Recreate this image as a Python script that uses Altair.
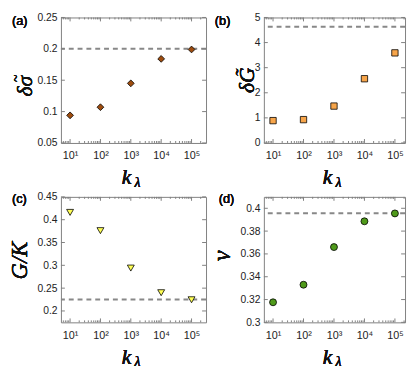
import altair as alt
import pandas as pd

k_vals = [10, 100, 1000, 10000, 100000]
a_vals = [0.094, 0.107, 0.145, 0.184, 0.199]
b_vals = [0.89, 0.93, 1.47, 2.56, 3.59]
c_vals = [0.416, 0.376, 0.294, 0.240, 0.2245]
d_vals = [0.3176, 0.333, 0.366, 0.3886, 0.3955]
dash_vals = [0.2, 4.63, 0.225, 0.3957]

a_ticks = [0.05, 0.1, 0.15, 0.2, 0.25]
b_ticks = [0, 1, 2, 3, 4, 5]
c_ticks = [0.2, 0.25, 0.3, 0.35, 0.4, 0.45]
d_ticks = [0.3, 0.32, 0.34, 0.36, 0.38, 0.4]

minor_all = [m * 10 ** e for e in range(0, 6) for m in range(2, 10)]

FRAME = "#7f7f7f"
LABEL_FONT = "Liberation Sans"
MATH_FONT = "Liberation Serif"


def panel(vals, dash, shape, color, size, ydom, yticks, xdom, W, H,
          label, label_x, label_y, ytitle, ty_x, ty_y, ty_size, tilde=None):
    xs = alt.Scale(type="log", domain=xdom, nice=False)
    ys = alt.Scale(domain=ydom, nice=False, zero=False)
    df = pd.DataFrame({"k": k_vals, "v": vals})
    xaxis = alt.Axis(values=k_vals, ticks=False, domain=False, grid=False, title=None,
                     labelExpr="'10' + ['⁰','¹','²','³','⁴','⁵'][round(log(datum.value)/LN10)]",
                     labelFont=LABEL_FONT, labelFontSize=11, labelColor="#222",
                     labelPadding=7, labelFlush=False)
    yaxis = alt.Axis(values=yticks, ticks=False, domain=False, grid=False, title=None,
                     format="~g", labelFont=LABEL_FONT, labelFontSize=10.5,
                     labelColor="#222", labelPadding=4, labelFlush=False)
    pts = alt.Chart(df).mark_point(shape=shape, filled=True, fill=color, stroke="black",
                                   strokeWidth=0.8, size=size, opacity=1).encode(
        x=alt.X("k:Q", scale=xs, axis=xaxis),
        y=alt.Y("v:Q", scale=ys, axis=yaxis))
    dline = alt.Chart(pd.DataFrame({"d": [dash]})).mark_rule(
        color="#888888", strokeWidth=2, strokeDash=[5, 4]).encode(
        y=alt.Y("d:Q", scale=ys, axis=yaxis))
    maj = pd.DataFrame({"t": k_vals})
    mnr = pd.DataFrame({"t": [m for m in minor_all if xdom[0] < m < xdom[1]]})
    yt = pd.DataFrame({"t": yticks})
    layers = [dline]
    for dd, ln in ((maj, 4), (mnr, 2)):
        for y0, y1 in ((H, H - ln), (0, ln)):
            layers.append(alt.Chart(dd).mark_rule(color=FRAME, strokeWidth=1).encode(
                x=alt.X("t:Q", scale=xs, axis=xaxis), y=alt.value(y0), y2=alt.value(y1)))
    for x0, x1 in ((0, 4), (W, W - 4)):
        layers.append(alt.Chart(yt).mark_rule(color=FRAME, strokeWidth=1).encode(
            y=alt.Y("t:Q", scale=ys, axis=yaxis), x=alt.value(x0), x2=alt.value(x1)))
    layers.append(pts)
    layers.append(alt.Chart(df).mark_text(text=label, font=LABEL_FONT, fontSize=13,
                                          align="left", baseline="middle", color="#111").encode(
        x=alt.value(label_x), y=alt.value(label_y)))
    layers.append(alt.Chart(df).mark_text(text=ytitle, font=MATH_FONT, fontStyle="italic",
                                          fontWeight="normal",
                                          fontSize=ty_size, angle=270, align="center",
                                          baseline="middle", color="#111").encode(
        x=alt.value(ty_x), y=alt.value(ty_y)))
    if tilde is not None:
        layers.append(alt.Chart(df).mark_text(text="~", font=MATH_FONT, fontSize=14,
                                              angle=270, align="center", baseline="middle",
                                              color="#111").encode(
            x=alt.value(tilde[0]), y=alt.value(tilde[1])))
    layers.append(alt.Chart(df).mark_text(text="k", font=MATH_FONT, fontStyle="italic",
                                          fontWeight="normal",
                                          fontSize=22, align="center", baseline="alphabetic",
                                          color="#111").encode(
        x=alt.value(W / 2 - 7), y=alt.value(H + 42)))
    layers.append(alt.Chart(df).mark_text(text="λ", font=MATH_FONT, fontStyle="italic",
                                          fontWeight="normal",
                                          fontSize=14, align="center", baseline="alphabetic",
                                          color="#111").encode(
        x=alt.value(W / 2 + 4), y=alt.value(H + 45)))
    return alt.layer(*layers).properties(width=W, height=H)


H = 128
WL, WR = 148, 144
XL = [5, 3e5]
XR = [5, 2.15e5]

pa = panel(a_vals, dash_vals[0], "diamond", "#9e4c0e", 48, [0.05, 0.25], a_ticks, XL, WL, H,
           "(a)", -50, 4, "δσ", -37, 70, 22, tilde=(-45, 62))
pb = panel(b_vals, dash_vals[1], "square", "#f7a54a", 42, [0, 5], b_ticks, XR, WR, H,
           "(b)", -50, 4, "δG̃", -17, 64, 22)
pc = panel(c_vals, dash_vals[2], "triangle-down", "#ffff55", 50, [0.175, 0.45], c_ticks, XL, WL, H,
           "(c)", -50, 2, "G/K", -42, 65, 23)
pd_ = panel(d_vals, dash_vals[3], "circle", "#4f9a1a", 50, [0.3, 0.41], d_ticks, XR, WR, H,
            "(d)", -46, 2, "ν", -43, 60, 25)

chart = alt.concat(pa, pb, pc, pd_, columns=2, spacing={"row": 55, "column": 59},
                   bounds="flush").properties(padding=0).configure_view(
    stroke=FRAME, strokeWidth=1)

chart.save("out.html", embed_options={"renderer": "svg", "actions": False})
